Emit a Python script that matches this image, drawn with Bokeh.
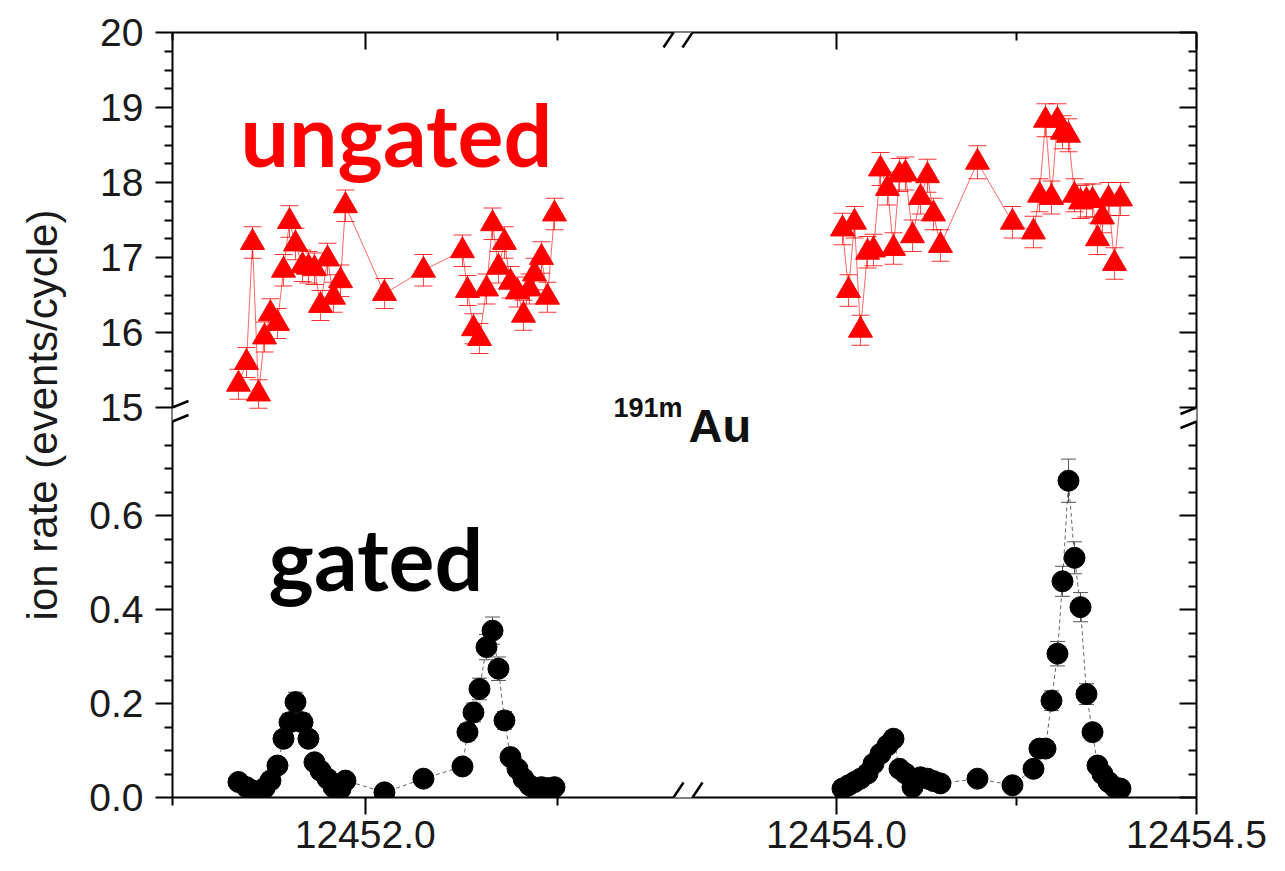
from bokeh.plotting import figure
from bokeh.models import Range1d, LinearAxis, FixedTicker, Label, Arrow, ColumnDataSource
from bokeh.embed import file_html
from bokeh.resources import INLINE

# ---------------- data ----------------
freq_left = [12451.8356, 12451.8460, 12451.8538, 12451.8616, 12451.8694, 12451.8771,
             12451.8862, 12451.8940, 12451.9018, 12451.9096, 12451.9187, 12451.9264,
             12451.9342, 12451.9420, 12451.9511, 12451.9589, 12451.9680, 12451.9744,
             12452.0250, 12452.0756, 12452.1262, 12452.1327, 12452.1405, 12452.1483,
             12452.1574, 12452.1652, 12452.1729, 12452.1807, 12452.1885, 12452.1976,
             12452.2054, 12452.2132, 12452.2196, 12452.2287, 12452.2365, 12452.2456]
ungated_left = [15.31, 15.60, 17.20, 15.18, 15.94, 16.25, 16.12, 16.83, 17.48, 17.18,
                16.89, 16.87, 16.85, 16.36, 16.98, 16.47, 16.69, 17.69, 16.52, 16.83,
                17.09, 16.56, 16.05, 15.92, 16.58, 17.45, 16.87, 17.20, 16.67, 16.54,
                16.23, 16.58, 16.78, 17.00, 16.47, 17.58]
ungated_left_err = [0.20, 0.20, 0.21, 0.19, 0.20, 0.20, 0.20, 0.21, 0.21, 0.21,
                    0.21, 0.21, 0.21, 0.20, 0.21, 0.20, 0.21, 0.21, 0.20, 0.21,
                    0.21, 0.20, 0.20, 0.20, 0.20, 0.21, 0.21, 0.21, 0.21, 0.20,
                    0.20, 0.20, 0.21, 0.21, 0.20, 0.21]
gated_left = [0.033, 0.022, 0.015, 0.011, 0.020, 0.036, 0.068, 0.125, 0.160, 0.203,
              0.160, 0.125, 0.075, 0.057, 0.040, 0.022, 0.018, 0.036, 0.011, 0.040,
              0.066, 0.139, 0.181, 0.231, 0.320, 0.355, 0.274, 0.164, 0.086, 0.061,
              0.040, 0.026, 0.020, 0.022, 0.020, 0.022]
gated_left_err = [0.008, 0.007, 0.006, 0.005, 0.007, 0.009, 0.012, 0.017, 0.019, 0.021,
                  0.019, 0.017, 0.013, 0.011, 0.009, 0.007, 0.006, 0.009, 0.005, 0.009,
                  0.012, 0.018, 0.020, 0.023, 0.027, 0.029, 0.025, 0.019, 0.014, 0.012,
                  0.009, 0.008, 0.007, 0.007, 0.007, 0.007]

freq_right = [12454.0083, 12454.0167, 12454.0250, 12454.0333, 12454.0431, 12454.0514,
              12454.0611, 12454.0708, 12454.0792, 12454.0875, 12454.0958, 12454.1056,
              12454.1167, 12454.1264, 12454.1347, 12454.1444, 12454.1958, 12454.2444,
              12454.2736, 12454.2819, 12454.2903, 12454.2986, 12454.3069, 12454.3139,
              12454.3222, 12454.3306, 12454.3389, 12454.3472, 12454.3556, 12454.3625,
              12454.3694, 12454.3778, 12454.3861, 12454.3944]
ungated_right = [17.38, 16.56, 17.47, 16.03, 17.07, 17.10, 18.18, 17.92, 17.12, 18.10,
                 18.12, 17.29, 17.80, 18.09, 17.58, 17.16, 18.27, 17.47, 17.34, 17.83,
                 18.83, 17.80, 18.83, 18.67, 18.63, 17.83, 17.74, 17.76, 17.76, 17.25,
                 17.54, 17.78, 16.92, 17.78]
ungated_right_err = [0.21, 0.21, 0.21, 0.20, 0.21, 0.21, 0.22, 0.22, 0.21, 0.22,
                     0.22, 0.21, 0.22, 0.22, 0.21, 0.21, 0.22, 0.21, 0.21, 0.22,
                     0.22, 0.22, 0.22, 0.22, 0.22, 0.22, 0.22, 0.22, 0.22, 0.21,
                     0.21, 0.22, 0.21, 0.22]
gated_right = [0.019, 0.026, 0.033, 0.040, 0.051, 0.072, 0.093, 0.111, 0.125, 0.061,
               0.051, 0.022, 0.043, 0.040, 0.035, 0.030, 0.040, 0.026, 0.061, 0.104,
               0.104, 0.206, 0.306, 0.460, 0.674, 0.510, 0.405, 0.220, 0.139, 0.068,
               0.050, 0.033, 0.022, 0.019]
gated_right_err = [0.006, 0.007, 0.008, 0.009, 0.010, 0.012, 0.014, 0.015, 0.017, 0.011,
                   0.010, 0.007, 0.009, 0.009, 0.008, 0.008, 0.009, 0.007, 0.011, 0.015,
                   0.015, 0.021, 0.026, 0.032, 0.046, 0.034, 0.031, 0.022, 0.017, 0.012,
                   0.010, 0.008, 0.007, 0.006]

# axis segments (broken axes) and ticks
x_seg_left = (12451.75, 12452.40)
x_seg_right = (12453.80, 12454.50)
y_seg_top = (15.0, 20.0)
y_seg_bottom = (0.0, 0.80)

x_major_left = [12452.0]
x_minor_left = [12451.75, 12452.25]
x_major_right = [12454.0, 12454.5]
x_minor_right = [12454.25]
x_tick_labels = ["12452.0", "12454.0", "12454.5"]

y_major_top = [15, 16, 17, 18, 19, 20]
y_minor_top = [15.25, 15.5, 15.75, 16.25, 16.5, 16.75, 17.25, 17.5, 17.75,
               18.25, 18.5, 18.75, 19.25, 19.5, 19.75]
y_major_bottom = [0.0, 0.2, 0.4, 0.6]
y_minor_bottom = [0.05, 0.1, 0.15, 0.25, 0.3, 0.35, 0.45, 0.5, 0.55, 0.65, 0.7, 0.75]
y_tick_labels_top = ["15", "16", "17", "18", "19", "20"]
y_tick_labels_bottom = ["0.0", "0.2", "0.4", "0.6"]

y_title = "ion rate (events/cycle)"

# ---------------- layout ----------------
W, H = 1285, 871
FL, FT = 172, 32          # frame left / top
FW, FH = 1024, 765        # frame size
XL_PX, XR_PX = 501, 504   # pixel widths of the two x segments
YT_PX, YB_PX = 375, 376   # pixel heights of the two y segments

xl = Range1d(x_seg_left[0], x_seg_left[0] + (x_seg_left[1] - x_seg_left[0]) * FW / XL_PX)
xr = Range1d(x_seg_right[1] - (x_seg_right[1] - x_seg_right[0]) * FW / XR_PX, x_seg_right[1])
yt = Range1d(y_seg_top[1] - (y_seg_top[1] - y_seg_top[0]) * FH / YT_PX, y_seg_top[1])
yb = Range1d(y_seg_bottom[0], y_seg_bottom[0] + (y_seg_bottom[1] - y_seg_bottom[0]) * FH / YB_PX)


def to_range(v, src, dst):
    u = (v - src.start) / (src.end - src.start)
    r = dst.start + u * (dst.end - dst.start)
    return min(max(r, dst.start), dst.end)


def px_x(px):
    return xl.start + (px - FL) / FW * (xl.end - xl.start)


def px_y(py):
    return yb.start + (FT + FH - py) / FH * (yb.end - yb.start)


p = figure(width=W, height=H, x_range=xl, y_range=yb, output_backend="svg",
           toolbar_location=None, x_axis_location=None, y_axis_location=None,
           min_border_left=FL, min_border_top=FT, min_border_right=W - FL - FW,
           min_border_bottom=H - FT - FH, outline_line_color=None,
           background_fill_color="white", border_fill_color="white")
p.extra_x_ranges = {"xr": xr}
p.extra_y_ranges = {"yt": yt}
p.grid.visible = False

# tickers (right / top segments expressed on the main ranges)
xt_major = x_major_left + [to_range(v, xr, xl) for v in x_major_right]
xt_minor = x_minor_left + [to_range(v, xr, xl) for v in x_minor_right]
x_over = {t: s for t, s in zip(xt_major, x_tick_labels)}
yt_major = y_major_bottom + [to_range(v, yt, yb) for v in y_major_top]
yt_minor = y_minor_bottom + [to_range(v, yt, yb) for v in y_minor_top]
y_over = {t: s for t, s in zip(yt_major, y_tick_labels_bottom + y_tick_labels_top)}

FONT = "Liberation Sans"


def style_axis(ax, outward, labels):
    ax.axis_line_width = 2
    ax.axis_line_color = "black"
    ax.major_tick_line_width = 2
    ax.minor_tick_line_width = 2
    ax.major_tick_line_color = "black"
    ax.minor_tick_line_color = "black"
    if outward:
        ax.major_tick_out, ax.major_tick_in = 17, 0
        ax.minor_tick_out, ax.minor_tick_in = 8, 0
    else:
        ax.major_tick_out, ax.major_tick_in = 0, 17
        ax.minor_tick_out, ax.minor_tick_in = 0, 8
    if labels:
        ax.major_label_text_font = FONT
        ax.major_label_text_font_size = "39px"
        ax.major_label_text_color = "#1a1a1a"
    else:
        # mirror axis: ticks only, labels not drawn
        ax.major_label_text_font_size = "1px"
        ax.major_label_text_color = None
        ax.major_label_standoff = 0


bottom = LinearAxis(ticker=FixedTicker(ticks=xt_major, minor_ticks=xt_minor),
                    major_label_overrides=x_over)
style_axis(bottom, True, True)
bottom.major_label_standoff = 6
p.add_layout(bottom, "below")

top = LinearAxis(ticker=FixedTicker(ticks=xt_major, minor_ticks=xt_minor))
style_axis(top, False, False)
p.add_layout(top, "above")

left = LinearAxis(ticker=FixedTicker(ticks=yt_major, minor_ticks=yt_minor),
                  major_label_overrides=y_over, axis_label=y_title)
style_axis(left, True, True)
left.major_label_standoff = 12
left.axis_label_text_font = FONT
left.axis_label_text_font_size = "42px"
left.axis_label_text_font_style = "normal"
left.axis_label_text_color = "#1a1a1a"
left.axis_label_standoff = 20
p.add_layout(left, "left")

right = LinearAxis(ticker=FixedTicker(ticks=yt_major, minor_ticks=yt_minor))
style_axis(right, False, False)
p.add_layout(right, "right")

# ---------------- data glyphs ----------------
def make_src(x, y, e):
    return ColumnDataSource(dict(x=x, y=y,
                                 lo=[a - b for a, b in zip(y, e)],
                                 hi=[a + b for a, b in zip(y, e)]))


groups = [
    (make_src(freq_left, ungated_left, ungated_left_err), "default", "yt", "ungated"),
    (make_src(freq_right, ungated_right, ungated_right_err), "xr", "yt", "ungated"),
    (make_src(freq_left, gated_left, gated_left_err), "default", "default", "gated"),
    (make_src(freq_right, gated_right, gated_right_err), "xr", "default", "gated"),
]

for src, xn, yn, kind in groups:
    if kind == "ungated":
        p.line("x", "y", source=src, x_range_name=xn, y_range_name=yn,
               line_color="#ff0000", line_width=1, line_alpha=0.6)
        p.segment(x0="x", y0="lo", x1="x", y1="hi", source=src, x_range_name=xn,
                  y_range_name=yn, line_color="#ff0000", line_width=1, line_alpha=0.7)
        for col in ("lo", "hi"):
            p.scatter("x", col, source=src, marker="dash", size=18, x_range_name=xn,
                      y_range_name=yn, line_color="#ff0000", line_width=1, line_alpha=0.8)
        p.scatter("x", "y", source=src, marker="triangle", size=24, x_range_name=xn,
                  y_range_name=yn, fill_color="#ff0000", line_color="#ff0000")
    else:
        p.line("x", "y", source=src, x_range_name=xn, y_range_name=yn,
               line_color="#666666", line_width=1, line_dash="4 3")
        p.segment(x0="x", y0="lo", x1="x", y1="hi", source=src, x_range_name=xn,
                  y_range_name=yn, line_color="#555555", line_width=1)
        for col in ("lo", "hi"):
            p.scatter("x", col, source=src, marker="dash", size=15, x_range_name=xn,
                      y_range_name=yn, line_color="#555555", line_width=1)
        p.scatter("x", "y", source=src, marker="circle", size=21, x_range_name=xn,
                  y_range_name=yn, fill_color="black", line_color="black")

# ---------------- axis break marks ----------------
x_break_a = FL + XL_PX
x_break_b = FL + FW - XR_PX
y_break_a = FT + YT_PX
y_break_b = FT + FH - YB_PX

for yy in (FT, FT + FH):
    p.add_layout(Arrow(end=None, x_start=px_x(x_break_a), y_start=px_y(yy),
                       x_end=px_x(x_break_b), y_end=px_y(yy),
                       line_color="white", line_width=5))
    for xc in (x_break_a, x_break_b):
        p.add_layout(Arrow(end=None, x_start=px_x(xc - 10), y_start=px_y(yy + 15),
                           x_end=px_x(xc + 10), y_end=px_y(yy - 15),
                           line_color="black", line_width=2.5))
for xx in (FL, FL + FW):
    p.add_layout(Arrow(end=None, x_start=px_x(xx), y_start=px_y(y_break_a),
                       x_end=px_x(xx), y_end=px_y(y_break_b),
                       line_color="white", line_width=5))
    for yc in (y_break_a, y_break_b):
        p.add_layout(Arrow(end=None, x_start=px_x(xx - 16), y_start=px_y(yc + 6.5),
                           x_end=px_x(xx + 16), y_end=px_y(yc - 6.5),
                           line_color="black", line_width=2.5))

# ---------------- text ----------------
p.add_layout(Label(x=px_x(240), y=px_y(133), text="ungated", text_font="Lato",
                   text_font_style="bold", text_font_size="86px", text_color="#ff0000",
                   text_baseline="alphabetic", text_align="left"))
p.add_layout(Label(x=px_x(268), y=px_y(557), text="gated", text_font="Lato",
                   text_font_style="bold", text_font_size="86px", text_color="black",
                   text_baseline="alphabetic", text_align="left"))
p.add_layout(Label(x=px_x(613), y=px_y(407), text="191m", text_font=FONT,
                   text_font_style="bold", text_font_size="27px", text_color="#111111",
                   text_baseline="alphabetic", text_align="left"))
p.add_layout(Label(x=px_x(688), y=px_y(425), text="Au", text_font=FONT,
                   text_font_style="bold", text_font_size="47px", text_color="#111111",
                   text_baseline="alphabetic", text_align="left"))

open("out.html", "w").write(file_html(p, INLINE))
